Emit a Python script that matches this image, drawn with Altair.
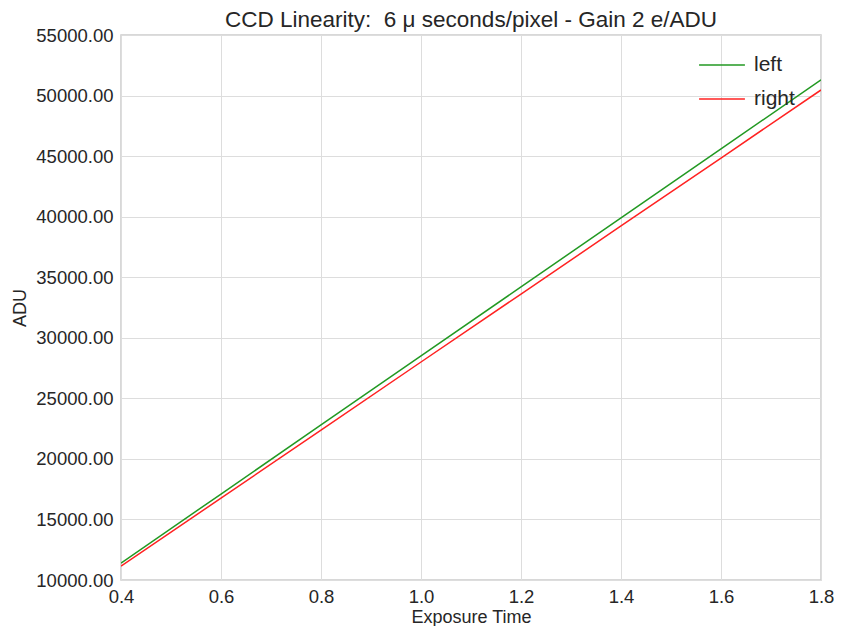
import altair as alt
import pandas as pd

exposure = [0.4, 0.6, 0.8, 1.0, 1.2, 1.4, 1.6, 1.8]
left_adu = [11400, 17100, 22800, 28500, 34200, 39900, 45600, 51300]
right_adu = [11150, 16760, 22380, 28000, 33610, 39230, 44840, 50460]
series = ["left", "right"]
colors = ["#229922", "#ff2222"]
x_ticks = [0.4, 0.6, 0.8, 1.0, 1.2, 1.4, 1.6, 1.8]
y_ticks = [10000, 15000, 20000, 25000, 30000, 35000, 40000, 45000, 50000, 55000]

rows = []
for t, l, r in zip(exposure, left_adu, right_adu):
    rows.append({"t": t, "adu": l, "amp": "left"})
    rows.append({"t": t, "adu": r, "amp": "right"})
df = pd.DataFrame(rows)

font = "Liberation Sans"
txt = "#262626"

chart = alt.Chart(df).mark_line(strokeWidth=1.5, clip=True).encode(
    x=alt.X("t:Q", scale=alt.Scale(domain=[0.4, 1.8], nice=False, zero=False),
            axis=alt.Axis(values=x_ticks, format=".1f", title="Exposure Time",
                          labelPadding=7, titlePadding=3, labelFlush=False)),
    y=alt.Y("adu:Q", scale=alt.Scale(domain=[10000, 55000], nice=False, zero=False),
            axis=alt.Axis(values=y_ticks, format=".2f", title="ADU",
                          labelPadding=8, titlePadding=6, labelFlush=False)),
    color=alt.Color("amp:N", scale=alt.Scale(domain=series, range=colors),
                    legend=alt.Legend(title=None, orient="none", legendX=577, legendY=6,
                                      symbolType="stroke", symbolSize=2100, symbolStrokeWidth=1.5,
                                      labelFontSize=21, labelFont=font, labelColor=txt,
                                      rowPadding=0, labelOffset=8)),
).properties(
    width=700, height=545,
    autosize=alt.AutoSizeParams(type="none"),
    padding={"left": 113, "top": 27, "right": 13, "bottom": 46},
    title=alt.Title("CCD Linearity:\u00a0 6 μ seconds/pixel - Gain 2 e/ADU", fontSize=22.5,
                    font=font, color=txt, fontWeight="normal", offset=-5),
).configure_view(
    stroke="#cccccc", strokeWidth=1.5
).configure_axis(
    labelFont=font, labelFontSize=18.5, labelColor=txt,
    titleFont=font, titleFontSize=18, titleColor=txt, titleFontWeight="normal",
    grid=True, gridColor="#dddddd", gridWidth=1,
    domain=False, ticks=False,
)

chart.save("out.html", embed_options={"renderer": "svg", "actions": False})
